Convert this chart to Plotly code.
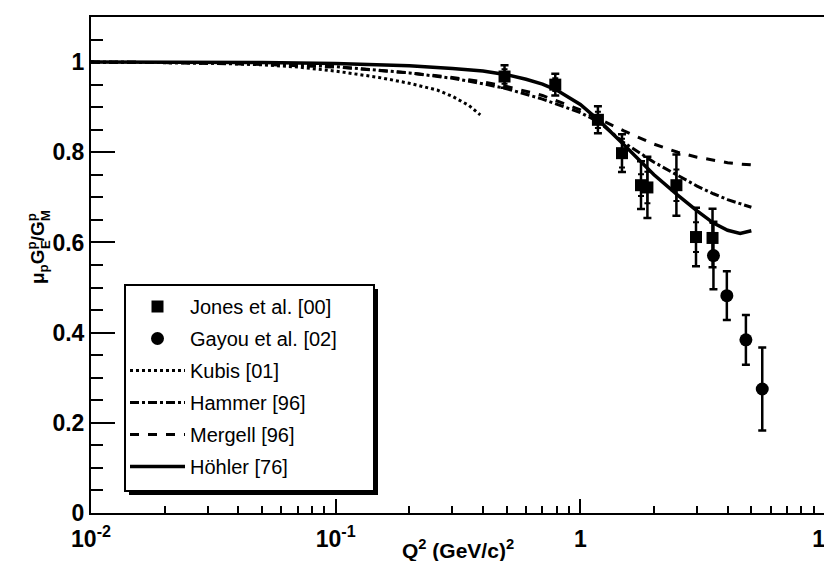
import plotly.graph_objects as go

# ---------------- data ----------------
jones_q2 = [0.49, 0.79, 1.18, 1.48, 1.77, 1.88, 2.47, 2.97, 3.47]
jones_r = [0.968, 0.950, 0.872, 0.798, 0.727, 0.722, 0.727, 0.612, 0.610]
jones_err_tot = [0.025, 0.024, 0.030, 0.042, 0.053, 0.068, 0.068, 0.065, 0.065]
jones_err_stat = [0.016, 0.014, 0.018, 0.032, 0.024, 0.035, 0.035, 0.033, 0.033]

gayou_q2 = [3.50, 3.97, 4.75, 5.54]
gayou_r = [0.571, 0.482, 0.384, 0.275]
gayou_err = [0.075, 0.054, 0.055, 0.092]

kubis_q2 = [0.01, 0.02, 0.03, 0.05, 0.07, 0.10, 0.15, 0.20, 0.26, 0.30, 0.35, 0.39]
kubis_r = [1.000, 0.999, 0.998, 0.994, 0.989, 0.980, 0.966, 0.953, 0.938, 0.924, 0.904, 0.883]

hammer_q2 = [0.01, 0.02, 0.05, 0.1, 0.2, 0.3, 0.4, 0.5, 0.7, 1.0, 1.2, 1.5, 2.0, 2.5, 3.0, 3.5, 4.0, 4.5, 5.0]
hammer_r = [1.000, 0.999, 0.996, 0.990, 0.976, 0.964, 0.952, 0.941, 0.918, 0.888, 0.866, 0.822,
            0.778, 0.748, 0.725, 0.708, 0.695, 0.686, 0.678]

mergell_q2 = [0.01, 0.02, 0.05, 0.1, 0.2, 0.3, 0.4, 0.5, 0.7, 1.0, 1.2, 1.5, 2.0, 2.5, 3.0, 3.5, 4.0, 4.5, 5.0]
mergell_r = [1.000, 0.999, 0.995, 0.989, 0.976, 0.966, 0.956, 0.946, 0.926, 0.894, 0.873, 0.848,
             0.818, 0.800, 0.789, 0.782, 0.777, 0.774, 0.772]

hohler_q2 = [0.01, 0.02, 0.05, 0.1, 0.2, 0.3, 0.4, 0.5, 0.6, 0.7, 0.8, 1.0, 1.2, 1.5, 1.8, 2.0,
             2.5, 3.0, 3.5, 4.0, 4.5, 5.0]
hohler_r = [1.000, 1.000, 0.999, 0.997, 0.992, 0.986, 0.980, 0.972, 0.962, 0.951, 0.938, 0.906,
            0.869, 0.818, 0.775, 0.750, 0.705, 0.670, 0.643, 0.627, 0.620, 0.626]

x_tick_vals = [0.01, 0.1, 1, 10]
x_tick_text = ["10<sup>-2</sup>", "10<sup>-1</sup>", "1", "10"]
y_tick_vals = [0, 0.2, 0.4, 0.6, 0.8, 1.0]
y_tick_text = ["0", "0.2", "0.4", "0.6", "0.8", "1"]

FONT = "Liberation Sans, Arial, sans-serif"

# plot-area geometry in pixels
W, H = 832, 561
ML, MR, MT, MB = 83, 15, 9, 56
PW, PH = W - ML - MR, H - MT - MB

def px_x(p):
    return (p - ML) / PW

def px_y(p):
    return (H - MB - p) / PH

fig = go.Figure()

fig.add_trace(go.Scatter(
    x=kubis_q2, y=kubis_r, mode="lines", name="Kubis [01]",
    line=dict(color="black", width=3, dash="dot"), legendrank=3, legendgroup="c"))
fig.add_trace(go.Scatter(
    x=hammer_q2, y=hammer_r, mode="lines", name="Hammer [96]",
    line=dict(color="black", width=3, dash="dashdot"), legendrank=4, legendgroup="d"))
fig.add_trace(go.Scatter(
    x=mergell_q2, y=mergell_r, mode="lines", name="Mergell [96]",
    line=dict(color="black", width=3, dash="dash"), legendrank=5, legendgroup="e"))
fig.add_trace(go.Scatter(
    x=hohler_q2, y=hohler_r, mode="lines", name="Höhler [76]",
    line=dict(color="black", width=3.5), legendrank=6, legendgroup="f"))

# inner (statistical) error ticks of Jones data
fig.add_trace(go.Scatter(
    x=jones_q2, y=jones_r, mode="markers", showlegend=False,
    marker=dict(size=1, color="rgba(0,0,0,0)"),
    error_y=dict(type="data", array=jones_err_stat, color="black", thickness=2, width=3)))
fig.add_trace(go.Scatter(
    x=jones_q2, y=jones_r, mode="markers", name="Jones et al. [00]",
    marker=dict(symbol="square", size=12, color="black"),
    error_y=dict(type="data", array=jones_err_tot, color="black", thickness=2.5, width=4),
    legendrank=1, legendgroup="a"))
fig.add_trace(go.Scatter(
    x=gayou_q2, y=gayou_r, mode="markers", name="Gayou et al. [02]",
    marker=dict(symbol="circle", size=13, color="black"),
    error_y=dict(type="data", array=gayou_err, color="black", thickness=2.5, width=4),
    legendrank=2, legendgroup="b"))

minor_x = [m * 10 ** e for e in (-2, -1, 0) for m in range(2, 10)]

# legend frame (pixels) and its drop shadow
LG_L, LG_T, LG_R, LG_B = 117, 277, 366, 483
SH = 4

# y-axis title pieces (stacked sub/superscripts)
YT_X, YT_Y = 29, 241
TITLE_SIZE = 19
SUB_DX = 8

fig.update_layout(
    width=W, height=H,
    margin=dict(l=ML, r=MR, t=MT, b=MB),
    paper_bgcolor="white", plot_bgcolor="white",
    font=dict(family=FONT, color="black"),
    showlegend=True,
    legend=dict(
        x=px_x(LG_L), y=px_y(LG_T + 2), xanchor="left", yanchor="top",
        bgcolor="rgba(0,0,0,0)", borderwidth=0,
        font=dict(family=FONT, size=20, color="black"),
        tracegroupgap=3, itemwidth=55,
    ),
    xaxis=dict(
        type="log", range=[-2, 1], automargin=False,
        tickmode="array", tickvals=x_tick_vals, ticktext=x_tick_text,
        ticks="inside", ticklen=14, tickwidth=2, tickcolor="black",
        minor=dict(tickmode="array", tickvals=minor_x, ticks="inside",
                   ticklen=7, tickwidth=1.5, tickcolor="black", showgrid=False),
        showline=True, linewidth=2, linecolor="black", mirror=True,
        showgrid=False, zeroline=False, ticklabelstandoff=4,
        ticklabeloverflow="allow",
        tickfont=dict(family=FONT, size=23, color="black", weight="bold"),
    ),
    yaxis=dict(
        range=[0, 1.1], automargin=False,
        tickmode="array", tickvals=y_tick_vals, ticktext=y_tick_text,
        ticks="inside", ticklen=24, tickwidth=2, tickcolor="black",
        minor=dict(dtick=0.05, tick0=0, ticks="inside", ticklen=12,
                   tickwidth=1.5, tickcolor="black", showgrid=False),
        showline=True, linewidth=2, linecolor="black", mirror=True,
        showgrid=False, zeroline=False,
        tickfont=dict(family=FONT, size=23, color="black", weight="bold"),
    ),
    shapes=[
        dict(type="rect", xref="paper", yref="paper", layer="above",
             x0=px_x(LG_L + SH), x1=px_x(LG_R + SH), y0=px_y(LG_B + SH), y1=px_y(LG_T + SH),
             fillcolor="black", line=dict(width=0)),
        dict(type="rect", xref="paper", yref="paper", layer="above",
             x0=px_x(LG_L), x1=px_x(LG_R), y0=px_y(LG_B), y1=px_y(LG_T),
             fillcolor="white", line=dict(color="black", width=2)),
    ],
    annotations=[
        dict(text="Q<sup>2</sup> (GeV/c)<sup>2</sup>", xref="paper", yref="paper",
             x=0.5, y=0, yshift=-36, xanchor="center", yanchor="middle", showarrow=False,
             font=dict(family=FONT, size=21, color="black", weight="bold")),
        dict(text="μ<sub>p</sub>G<sup>p</sup>/G<sup>p</sup>",
             xref="paper", yref="paper", x=px_x(YT_X), y=px_y(YT_Y),
             xanchor="center", yanchor="middle", textangle=-90, showarrow=False,
             font=dict(family=FONT, size=TITLE_SIZE, color="black", weight="bold")),
        dict(text="E", xref="paper", yref="paper", x=px_x(YT_X + SUB_DX), y=px_y(YT_Y - 4),
             xanchor="center", yanchor="middle", textangle=-90, showarrow=False,
             font=dict(family=FONT, size=13, color="black", weight="bold")),
        dict(text="M", xref="paper", yref="paper", x=px_x(YT_X + SUB_DX), y=px_y(YT_Y - 33),
             xanchor="center", yanchor="middle", textangle=-90, showarrow=False,
             font=dict(family=FONT, size=13, color="black", weight="bold")),
    ],
)

fig.write_html("out.html")
